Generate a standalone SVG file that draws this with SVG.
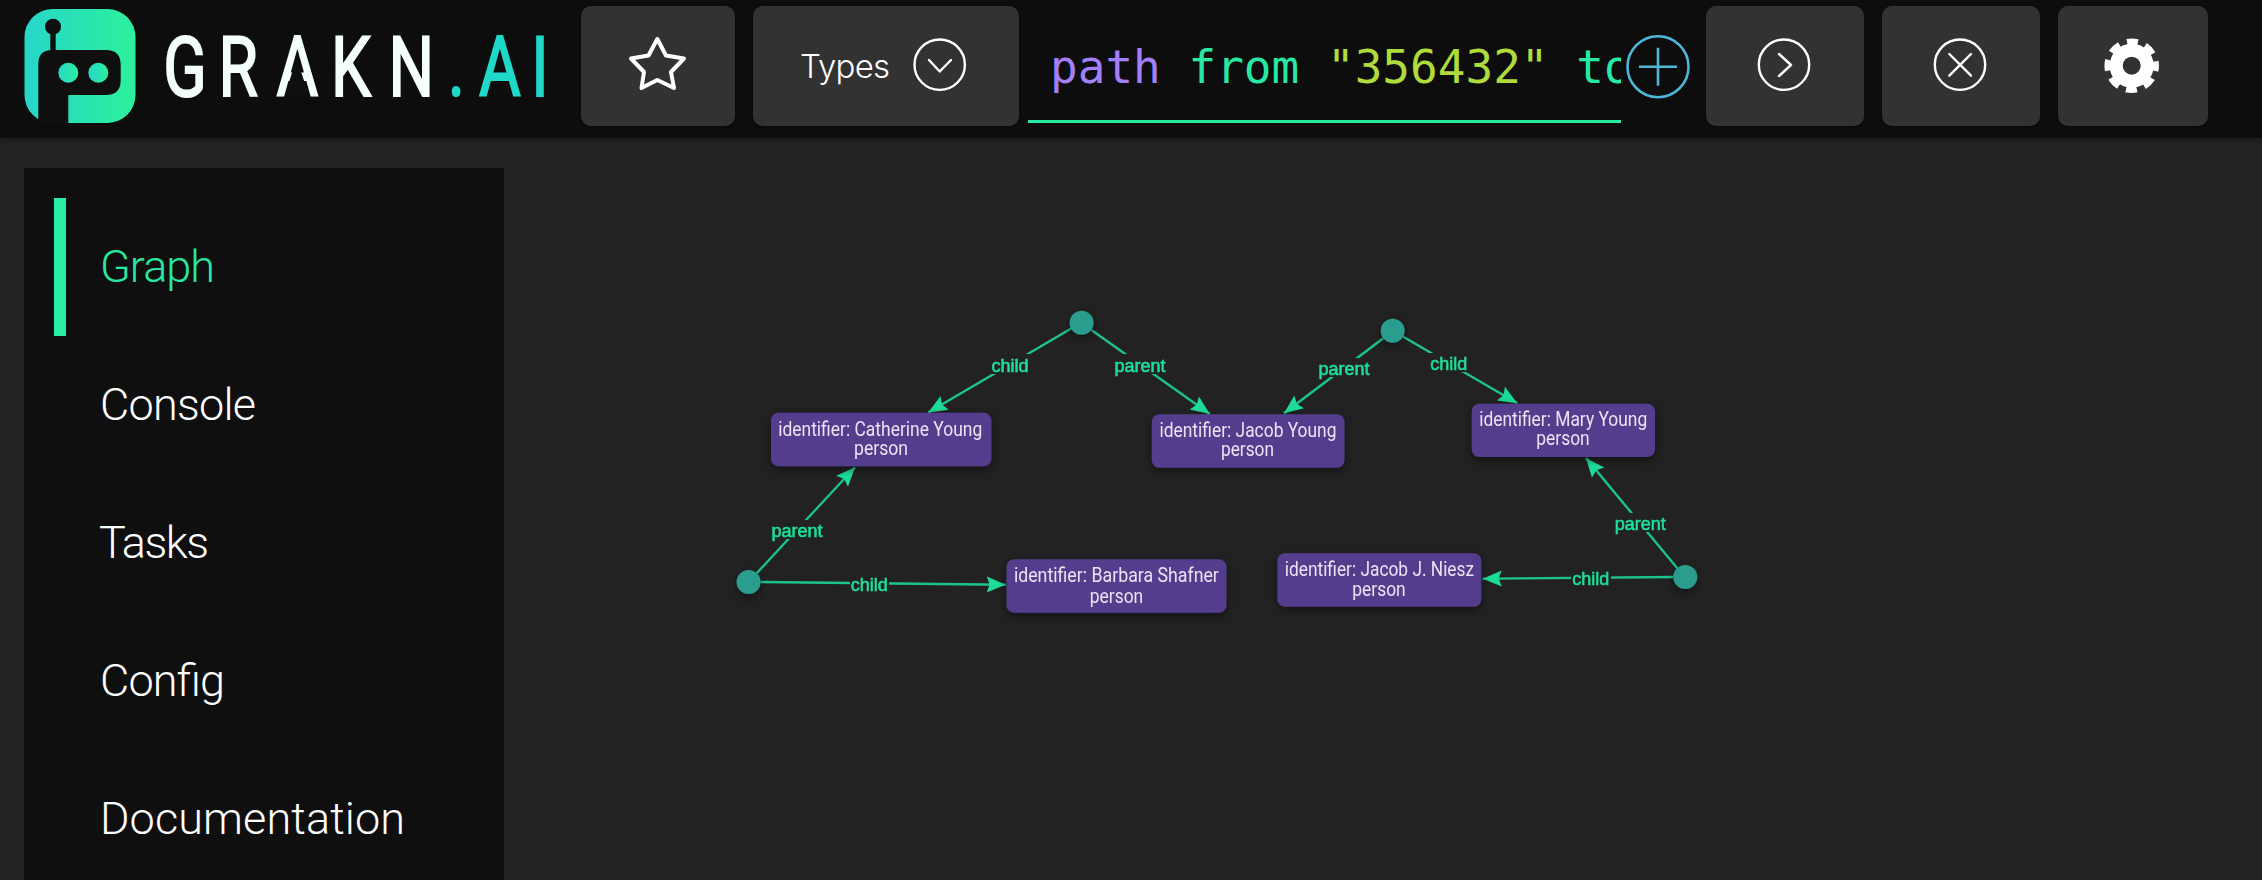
<svg xmlns="http://www.w3.org/2000/svg" width="2262" height="880" viewBox="0 0 2262 880">
  <style>
    .btn { fill:#333333; filter:url(#btnShadow); }
    .ico { fill:none; stroke:#ffffff; stroke-width:2.4; stroke-linecap:round; stroke-linejoin:round; }
    .menu { font-family:Roboto,"Liberation Sans",sans-serif; font-weight:300; font-size:45px; fill:#ffffff; }
    .q { font-family:"DejaVu Sans Mono","Liberation Mono",monospace; font-size:46px; }
    .card { fill:#553c8e; filter:url(#nodeShadow); }
    .rel { fill:#2a9d8f; filter:url(#nodeShadow); }
    .nt { font-family:Roboto,"Liberation Sans",sans-serif; font-size:19.5px; fill:#ebe3f3; text-anchor:middle; }
    .edge { stroke:#1fc48c; stroke-width:2.4; fill:none; marker-end:url(#arrow); }
    .lab { font-family:"Liberation Sans",Arial,sans-serif; font-size:18px; fill:#1fe09a; stroke:#1fe09a; stroke-width:.55; text-anchor:middle; }
    .gap { fill:#222222; }
    .logotxt { font-family:Roboto,"Liberation Sans",sans-serif; font-weight:400; font-size:83px; stroke-width:2; }
  </style>
  <defs>
    <linearGradient id="logoGrad" x1="0" y1="0" x2="1" y2="0">
      <stop offset="0" stop-color="#27d6c9"/><stop offset="1" stop-color="#2cf09c"/>
    </linearGradient>
    <filter id="btnShadow" x="-10%" y="-10%" width="120%" height="125%">
      <feDropShadow dx="0" dy="2" stdDeviation="3" flood-color="#000" flood-opacity=".35"/>
    </filter>
    <filter id="nodeShadow" x="-15%" y="-30%" width="130%" height="170%">
      <feDropShadow dx="0" dy="3" stdDeviation="4" flood-color="#000" flood-opacity=".45"/>
    </filter>
    <filter id="barShadow" x="-1%" y="-10%" width="102%" height="125%">
      <feDropShadow dx="0" dy="2" stdDeviation="3" flood-color="#000" flood-opacity=".3"/>
    </filter>
    <filter id="soft"><feGaussianBlur stdDeviation=".45"/></filter>
    <marker id="arrow" markerUnits="userSpaceOnUse" markerWidth="20" markerHeight="18" refX="19" refY="9" orient="auto">
      <path d="M0 1 L19 9 L0 17 L3 9 Z" fill="#1fdc98"/>
    </marker>
    <clipPath id="qclip"><rect x="1028" y="20" width="593" height="100"/></clipPath>
  </defs>

  <rect width="2262" height="880" fill="#222222"/>

  <g id="topbar">
    <rect width="2262" height="138" fill="#0f0f0f" filter="url(#barShadow)"/>
    <g id="logo">
      <rect x="24.5" y="9" width="111" height="114" rx="28" fill="url(#logoGrad)"/>
      <path d="M38.3 124 V64 Q38.3 50 52 50 L50.3 50 V34 H55.7 V50 H106 Q120.7 50 120.7 65 V80 Q120.7 95 106 95 H68.3 V124 Z" fill="#0f0f0f"/>
      <circle cx="53" cy="26.7" r="8" fill="#0f0f0f"/>
      <circle cx="68.3" cy="72.7" r="10" fill="url(#logoGrad)"/>
      <circle cx="98.3" cy="72.7" r="10" fill="url(#logoGrad)"/>
      <text class="logotxt" transform="scale(.77 1)" y="96" x="212 283.8 359 430 504.7" fill="#f4fffb" stroke="#f4fffb">GRAKN</text>
      <path d="M296.7 58 L284.5 96.5 H309 Z" fill="#0f0f0f"/>
      <text class="logotxt" transform="scale(.77 1)" y="96" x="581.8 622 690" fill="#1fd8c8" stroke="#1fd8c8">.AI</text>
    </g>
    <g id="btn-star">
      <rect class="btn" x="581" y="6" width="154" height="120" rx="10"/>
      <path d="M657.3 39 L666 55.5 L684 58.5 L671 72 L674 88 L657.3 80 L641.5 88 L644 72 L631 58.5 L648.5 55.5 Z" fill="none" stroke="#fff" stroke-width="4" stroke-linejoin="round"/>
    </g>
    <g id="btn-types">
      <rect class="btn" x="753" y="6" width="266" height="120" rx="10"/>
      <text x="800" y="78" font-family="Inter,'Liberation Sans',sans-serif" font-weight="300" font-size="33" fill="#fff" textLength="90">Types</text>
      <circle class="ico" cx="939.7" cy="64.7" r="25.2"/>
      <path class="ico" d="M929 60 L939.7 71.5 L951 60"/>
    </g>
    <g id="query">
      <text class="q" x="1050" y="82.5" clip-path="url(#qclip)" xml:space="preserve"><tspan fill="#a47ffb">path</tspan> <tspan fill="#27e8a4">from</tspan> <tspan fill="#aedc3c">"356432"</tspan> <tspan fill="#27e8a4">to</tspan></text>
      <rect x="1028" y="120" width="593" height="3" fill="#29e8a2"/>
    </g>
    <g id="btn-add" fill="none" stroke="#4fb6d8" stroke-width="2.6">
      <circle cx="1658" cy="66.7" r="30.5"/>
      <path d="M1639 66.7 H1677 M1658 47.7 V85.7"/>
    </g>
    <g id="btn-run">
      <rect class="btn" x="1706" y="6" width="158" height="120" rx="10"/>
      <circle class="ico" cx="1784" cy="64.7" r="25.2"/>
      <path class="ico" d="M1779 54 L1791 65 L1779 76"/>
    </g>
    <g id="btn-clear">
      <rect class="btn" x="1882" y="6" width="158" height="120" rx="10"/>
      <circle class="ico" cx="1960" cy="64.7" r="25.2"/>
      <path class="ico" d="M1949.3 54 L1971 75.7 M1971 54 L1949.3 75.7"/>
    </g>
    <g id="btn-settings">
      <rect class="btn" x="2058" y="6" width="150" height="120" rx="10"/>
      <circle cx="2131.7" cy="65.7" r="15.5" fill="none" stroke="#fff" stroke-width="13"/>
      <circle cx="2131.7" cy="65.7" r="24" fill="none" stroke="#fff" stroke-width="6.5" stroke-dasharray="11 7.85" stroke-dashoffset="5.5"/>
    </g>
  </g>

  <g id="sidebar">
    <rect x="24" y="168" width="480" height="712" fill="#0f0f0f"/>
    <rect x="54" y="198" width="12" height="138" fill="#29eea4"/>
    <text class="menu" x="100" y="281.7" textLength="115" style="fill:#29e8a2">Graph</text>
    <text class="menu" x="100" y="420.4" textLength="156">Console</text>
    <text class="menu" x="99" y="558" textLength="110">Tasks</text>
    <text class="menu" x="100" y="696" textLength="125">Config</text>
    <text class="menu" x="100" y="833.5" textLength="305">Documentation</text>
  </g>

  <g id="graph" filter="url(#soft)">
    <g id="connectors">
      <line class="edge" x1="1072" y1="328" x2="928.2" y2="412.5"/>
      <line class="edge" x1="1091.4" y1="330" x2="1209.8" y2="414"/>
      <line class="edge" x1="756.7" y1="573.3" x2="855" y2="467.3"/>
      <line class="edge" x1="760.8" y1="582" x2="1005.7" y2="584.7"/>
      <line class="edge" x1="1383.3" y1="338.3" x2="1284" y2="413.3"/>
      <line class="edge" x1="1403.3" y1="336.7" x2="1517.3" y2="403.3"/>
      <line class="edge" x1="1677.3" y1="568.3" x2="1586" y2="458"/>
      <line class="edge" x1="1673.3" y1="577" x2="1482.7" y2="578.7"/>
      <g id="edge-labels">
        <rect class="gap" x="990" y="354" width="40" height="20"/><text class="lab" x="1010" y="372">child</text>
        <rect class="gap" x="1113" y="354" width="54" height="20"/><text class="lab" x="1140" y="372">parent</text>
        <rect class="gap" x="770" y="520" width="54" height="19"/><text class="lab" x="797" y="537">parent</text>
        <rect class="gap" x="850" y="574" width="39" height="20"/><text class="lab" x="869.3" y="590.7">child</text>
        <rect class="gap" x="1317" y="358" width="54" height="19"/><text class="lab" x="1344" y="375">parent</text>
        <rect class="gap" x="1429" y="353" width="40" height="19"/><text class="lab" x="1448.7" y="370">child</text>
        <rect class="gap" x="1613" y="513" width="54" height="19"/><text class="lab" x="1640.3" y="530">parent</text>
        <rect class="gap" x="1571" y="568" width="40" height="20"/><text class="lab" x="1590.8" y="584.7">child</text>
      </g>
    </g>
    <g id="rel-1"><circle class="rel" cx="1081.6" cy="322.7" r="12"/></g>
    <g id="rel-2"><circle class="rel" cx="1392.7" cy="330.7" r="12"/></g>
    <g id="rel-3"><circle class="rel" cx="748.6" cy="582" r="12"/></g>
    <g id="rel-4"><circle class="rel" cx="1685.3" cy="577" r="12"/></g>
    <g id="node-catherine">
      <rect class="card" x="771" y="412.7" width="220.4" height="53.6" rx="7.5"/>
      <text class="nt" x="880.2" y="436.2" textLength="204" lengthAdjust="spacingAndGlyphs">identifier: Catherine Young</text>
      <text class="nt" x="881" y="455.4" textLength="54" lengthAdjust="spacingAndGlyphs">person</text>
    </g>
    <g id="node-jacob-young">
      <rect class="card" x="1151.8" y="414.3" width="192.7" height="53.4" rx="7.5"/>
      <text class="nt" x="1248" y="437" textLength="177" lengthAdjust="spacingAndGlyphs">identifier: Jacob Young</text>
      <text class="nt" x="1247.5" y="456.2" textLength="53" lengthAdjust="spacingAndGlyphs">person</text>
    </g>
    <g id="node-barbara">
      <rect class="card" x="1006.5" y="559.3" width="220" height="53.4" rx="7.5"/>
      <text class="nt" x="1116.4" y="582.3" textLength="205" lengthAdjust="spacingAndGlyphs">identifier: Barbara Shafner</text>
      <text class="nt" x="1116.5" y="602.7" textLength="53.5" lengthAdjust="spacingAndGlyphs">person</text>
    </g>
    <g id="node-mary">
      <rect class="card" x="1471.7" y="403.7" width="183.3" height="53.3" rx="7.5"/>
      <text class="nt" x="1563.2" y="426" textLength="168" lengthAdjust="spacingAndGlyphs">identifier: Mary Young</text>
      <text class="nt" x="1563" y="445.3" textLength="53.4" lengthAdjust="spacingAndGlyphs">person</text>
    </g>
    <g id="node-niesz">
      <rect class="card" x="1277.3" y="553.3" width="204" height="53.4" rx="7.5"/>
      <text class="nt" x="1379.4" y="576" textLength="189.3" lengthAdjust="spacingAndGlyphs">identifier: Jacob J. Niesz</text>
      <text class="nt" x="1379" y="595.7" textLength="53.4" lengthAdjust="spacingAndGlyphs">person</text>
    </g>
  </g>
</svg>
